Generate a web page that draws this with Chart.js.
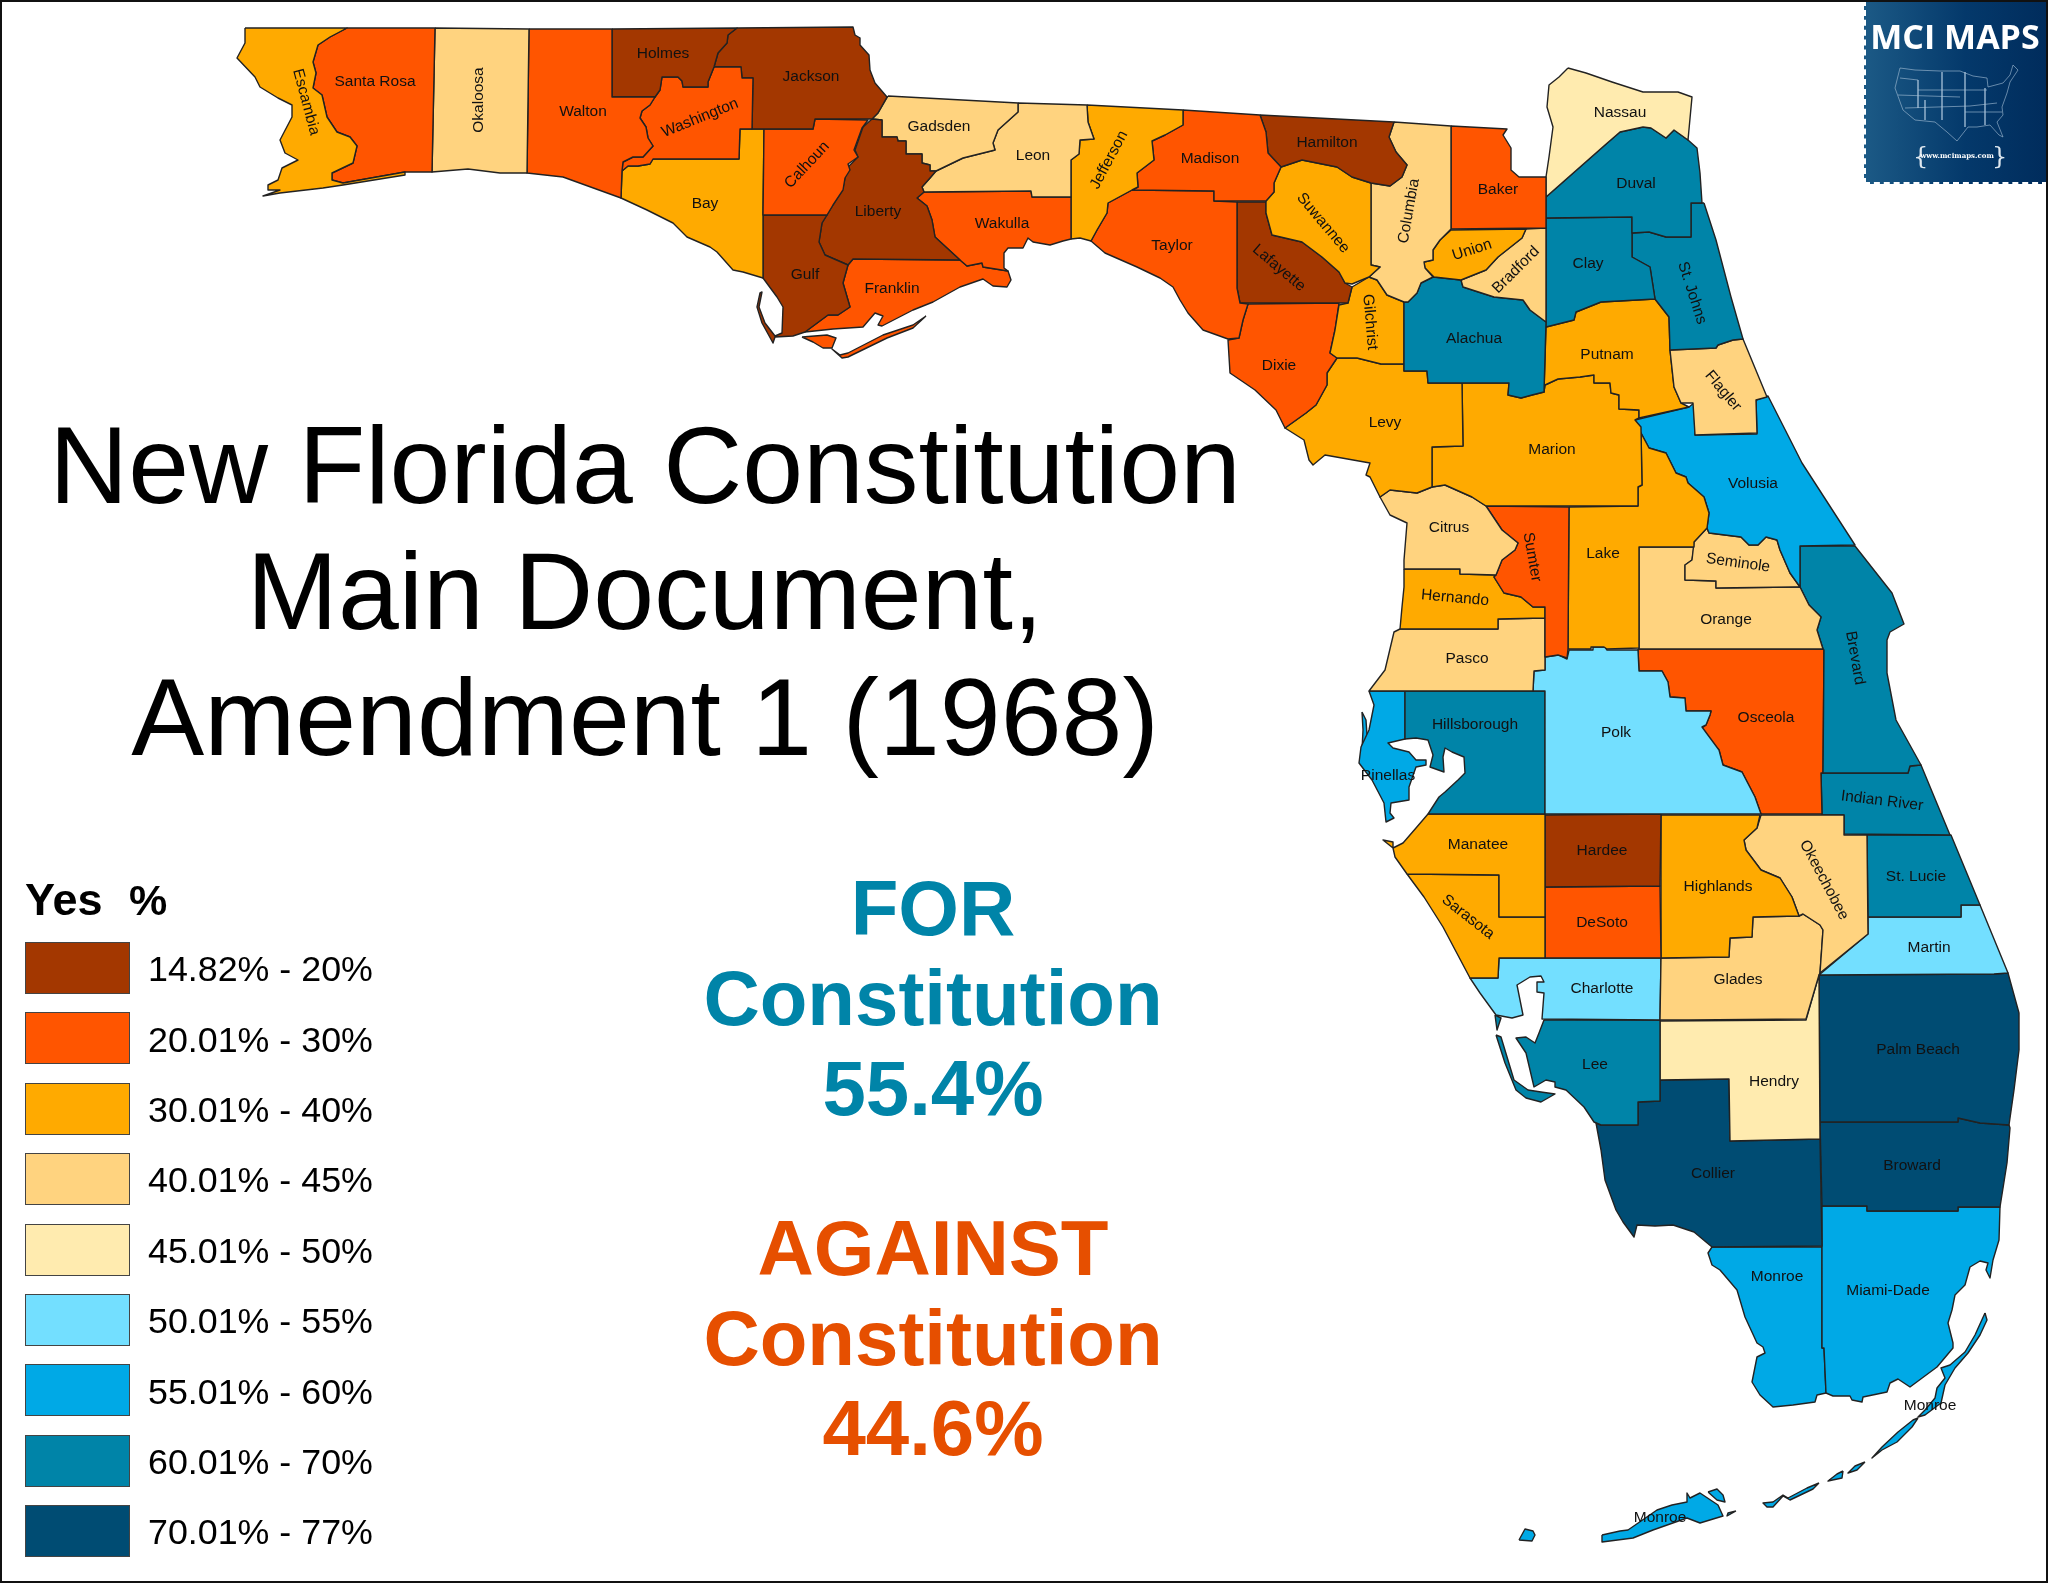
<!DOCTYPE html>
<html>
<head>
<meta charset="utf-8">
<title>New Florida Constitution</title>
<script src="https://cdn.jsdelivr.net/npm/chart.js@4"></script>
<style>
  html, body { margin: 0; padding: 0; background: #fff; }
  #page { position: relative; width: 2048px; height: 1583px; overflow: hidden; font-family: "Liberation Sans", Arial, sans-serif; color: #000; }
  #logo { position: absolute; left: 1864px; top: 0; width: 184px; height: 184px; box-sizing: border-box;
          background: linear-gradient(90deg, #1c5a86, #04396b 55%, #002c5c); outline: 2px dashed #fff; outline-offset: -2px; }
  #map { position: absolute; left: 0; top: 0; }
  #frame { position: absolute; left: 0; top: 0; width: 2048px; height: 1583px; box-sizing: border-box; border: 2px solid #111; pointer-events: none; }
  .t { position: absolute; white-space: nowrap; line-height: 1; }
  .swatch { position: absolute; left: 25px; width: 105px; height: 52px; box-sizing: border-box; border: 1.5px solid #444; }
</style>
</head>
<body>
<div id="page">
  <div id="logo"></div>
  <canvas id="map" width="2048" height="1583"></canvas>
  <div id="texts"></div>
  <div id="frame"></div>
</div>
<script>
// legend bins, yes %
const binLabels = ['14.82% - 20%', '20.01% - 30%', '30.01% - 40%', '40.01% - 45%', '45.01% - 50%', '50.01% - 55%', '55.01% - 60%', '60.01% - 70%', '70.01% - 77%'];
const binColors = ['#A33700', '#FF5500', '#FFAA00', '#FFD37F', '#FFEBAF', '#73DFFF', '#00A9E6', '#0084A8', '#004C73'];

const titleLines = ['New Florida Constitution', 'Main Document,', 'Amendment 1 (1968)'];
const forLines = ['FOR', 'Constitution', '55.4%'];
const againstLines = ['AGAINST', 'Constitution', '44.6%'];

const countyNames = ['Escambia', 'Santa Rosa', 'Okaloosa', 'Walton', 'Holmes', 'Washington', 'Jackson', 'Calhoun', 'Bay', 'Gulf', 'Liberty', 'Gadsden', 'Leon', 'Wakulla', 'Franklin',
  'Jefferson', 'Madison', 'Taylor', 'Hamilton', 'Suwannee', 'Lafayette', 'Columbia', 'Baker', 'Union', 'Bradford', 'Alachua', 'Gilchrist', 'Dixie', 'Nassau', 'Duval', 'Clay', 'St. Johns', 'Flagler', 'Putnam',
  'Levy', 'Marion', 'Citrus', 'Sumter', 'Hernando', 'Pasco', 'Lake', 'Volusia', 'Seminole', 'Orange', 'Brevard', 'Polk', 'Osceola', 'Hillsborough', 'Pinellas', 'Manatee', 'Sarasota', 'Hardee', 'DeSoto', 'Highlands', 'Okeechobee',
  'Indian River', 'St. Lucie', 'Martin', 'Glades', 'Charlotte', 'Lee', 'Hendry', 'Collier', 'Palm Beach', 'Broward', 'Miami-Dade', 'Monroe'];
// index into binColors for each county
const countyBins = [2, 1, 3, 1, 0, 1, 0, 1, 2, 0, 0, 3, 3, 1, 1,
  2, 1, 1, 0, 2, 0, 3, 1, 2, 3, 7, 2, 1, 4, 7, 7, 7, 3, 2,
  2, 2, 3, 1, 2, 3, 2, 6, 3, 3, 7, 5, 1, 7, 6, 2, 2, 0, 1, 2, 3,
  7, 7, 5, 3, 5, 7, 4, 8, 8, 8, 6, 6];

// county outlines, x,y,x,y... in map units
const countyRings = [
  [[245,28,347,28,330,37,318,45,313,62,316,73,313,88,322,95,327,117,337,132,350,137,357,146,353,163,332,173,332,180,343,183,405,172,405,175,343,185,323,188,280,193,263,196,280,190,268,190,268,185,278,180,282,168,298,160,285,153,280,140,292,117,292,105,278,98,260,87,255,77,237,58,245,43]],
  [[347,28,435,28,432,172,405,172,343,183,332,180,332,173,353,163,357,146,350,137,337,132,327,117,322,95,313,88,316,73,313,62,318,45,330,37]],
  [[435,28,529,29,527,173,500,173,468,169,432,172]],
  [[529,29,612,29,612,97,655,97,650,105,642,111,640,118,646,127,648,138,653,146,643,157,633,157,623,162,622,171,621,198,563,177,527,173]],
  [[612,29,737,28,728,35,727,43,718,53,714,67,708,82,708,87,683,87,682,81,678,77,662,77,660,90,655,97,612,97]],
  [[714,67,741,67,742,78,753,78,752,129,740,129,739,159,653,159,650,164,638,166,628,166,622,171,623,162,633,157,643,157,653,146,648,138,646,127,640,118,642,111,650,105,655,97,660,90,662,77,678,77,682,81,683,87,708,87,708,82]],
  [[737,28,853,27,855,35,860,38,860,45,869,55,870,70,875,83,887,97,878,113,872,119,815,119,813,129,752,129,753,78,742,78,741,67,714,67,718,53,727,43,728,35]],
  [[764,129,813,129,815,119,868,120,862,128,854,150,858,157,848,164,850,170,845,178,843,190,833,205,827,215,763,215]],
  [[622,171,628,166,638,166,650,164,653,159,739,159,740,129,764,129,763,215,763,278,743,272,733,270,717,252,710,247,687,237,673,223,647,210,621,198]],
  [[763,215,827,215,822,223,819,242,825,255,848,265,843,283,850,307,838,315,828,315,805,332,793,336,775,337,773,343,762,323,757,307,760,293,762,292,759,307,765,323,775,336,782,333,783,307,777,297,763,278]],
  [[872,119,882,120,882,137,897,137,898,141,906,141,906,154,922,154,922,163,930,165,930,171,936,171,930,178,922,187,924,192,917,198,927,206,932,220,935,237,960,260,853,259,848,265,825,255,819,242,822,223,827,215,833,205,843,188,847,168,858,157,855,150,863,127]],
  [[888,96,1018,103,1018,112,998,130,993,143,995,150,963,158,936,171,930,171,930,165,922,163,922,154,906,154,906,141,898,141,897,137,882,137,882,120,872,119,878,113]],
  [[1018,103,1087,105,1088,122,1094,139,1080,140,1079,154,1071,160,1071,197,1032,197,1031,191,924,192,922,187,930,178,936,171,963,158,995,150,993,143,998,130,1018,112]],
  [[917,198,924,192,1031,191,1032,197,1071,197,1071,239,1063,241,1050,245,1033,242,1028,238,1023,248,1008,248,1004,253,1004,268,1008,271,983,267,982,263,967,266,960,260,935,237,932,220,927,206]],
  [[853,259,960,260,967,266,982,263,983,267,1008,271,1011,280,1007,287,993,286,983,279,960,287,933,302,913,310,882,326,878,325,883,316,875,313,863,327,833,329,805,332,828,315,838,315,850,307,843,283,848,265],
   [926,316,913,328,887,338,848,357,842,358,832,349,840,355,848,353,883,335,913,325],
   [802,337,827,335,836,338,832,348,823,348,813,342]],
  [[1087,105,1183,110,1183,125,1165,135,1152,141,1154,160,1137,173,1138,187,1132,190,1108,203,1107,213,1097,230,1091,241,1080,238,1071,239,1071,160,1079,154,1080,140,1094,139,1088,122]],
  [[1183,110,1260,115,1266,132,1268,153,1281,167,1274,183,1274,192,1266,201,1214,201,1214,191,1132,190,1138,187,1137,173,1154,160,1152,141,1165,135,1183,125]],
  [[1132,190,1214,191,1214,201,1237,202,1237,288,1240,303,1248,304,1243,320,1239,338,1228,339,1203,330,1188,313,1180,300,1173,287,1160,278,1137,267,1105,253,1091,241,1097,230,1107,213,1108,203]],
  [[1260,115,1394,122,1389,137,1396,152,1407,165,1402,177,1390,186,1371,183,1352,177,1337,167,1302,160,1281,167,1268,153,1266,132]],
  [[1281,167,1302,160,1337,167,1352,177,1371,183,1371,265,1380,267,1369,277,1352,284,1345,283,1339,272,1322,257,1302,242,1272,235,1266,213,1266,201,1274,192,1274,183]],
  [[1237,202,1266,202,1266,213,1272,235,1302,242,1322,257,1339,272,1345,283,1352,287,1348,303,1240,303,1237,288]],
  [[1394,122,1451,126,1451,229,1440,240,1433,250,1433,260,1424,262,1425,268,1433,277,1421,283,1417,293,1408,302,1404,302,1387,295,1377,280,1369,277,1380,267,1371,265,1371,183,1390,186,1402,177,1407,165,1396,152,1389,137]],
  [[1451,126,1507,129,1503,135,1511,148,1511,170,1519,177,1546,177,1546,228,1451,229]],
  [[1451,230,1526,229,1522,238,1498,257,1486,270,1461,280,1434,277,1425,268,1424,262,1433,260,1433,250,1440,240]],
  [[1526,229,1546,228,1546,322,1530,310,1523,300,1494,297,1463,287,1461,280,1486,270,1498,257,1522,238]],
  [[1404,302,1408,302,1417,293,1421,283,1433,277,1461,280,1463,287,1494,297,1523,300,1530,310,1546,322,1544,392,1532,395,1521,398,1508,395,1509,383,1428,383,1427,371,1404,371]],
  [[1369,277,1377,280,1387,295,1404,302,1404,364,1381,364,1357,358,1337,358,1330,353,1335,330,1339,305,1348,303,1352,287]],
  [[1248,304,1339,303,1335,330,1330,353,1337,358,1327,373,1327,385,1316,405,1306,413,1285,428,1276,410,1255,390,1230,373,1228,340,1239,338,1243,320]],
  [[1568,68,1586,73,1612,82,1643,92,1678,92,1692,97,1688,140,1674,130,1666,138,1651,128,1643,127,1620,132,1605,145,1546,197,1546,177,1549,157,1553,127,1547,107,1549,85,1559,77]],
  [[1546,197,1605,145,1620,132,1643,127,1651,128,1666,138,1674,130,1688,140,1697,148,1700,173,1702,203,1691,203,1691,237,1666,237,1649,232,1632,233,1632,217,1546,218]],
  [[1546,218,1632,217,1632,233,1632,257,1650,267,1655,299,1601,302,1576,312,1574,320,1546,327]],
  [[1704,203,1691,203,1691,237,1666,237,1649,232,1632,233,1632,257,1650,267,1655,299,1669,317,1670,350,1716,348,1718,345,1733,340,1743,339,1731,297,1716,240]],
  [[1670,350,1716,348,1718,345,1733,340,1743,339,1767,397,1756,400,1757,433,1695,435,1693,403,1681,403,1674,387]],
  [[1546,327,1574,320,1576,312,1601,302,1655,299,1669,317,1670,350,1674,387,1681,403,1689,407,1639,418,1639,410,1619,409,1619,395,1611,393,1610,383,1594,383,1594,375,1580,377,1558,379,1545,385,1544,392]],
  [[1337,358,1357,358,1381,364,1404,364,1404,371,1427,371,1428,383,1462,383,1463,446,1432,447,1432,487,1417,493,1390,490,1380,497,1370,477,1366,475,1370,463,1325,455,1313,465,1309,460,1304,440,1285,428,1306,413,1316,405,1327,385,1327,373]],
  [[1462,383,1509,383,1508,395,1521,398,1532,395,1544,392,1545,385,1558,379,1580,377,1594,375,1594,383,1610,383,1611,393,1619,395,1619,409,1639,410,1639,418,1635,420,1641,427,1642,485,1638,487,1638,506,1486,506,1472,497,1445,485,1432,487,1432,447,1463,446]],
  [[1432,487,1445,485,1472,497,1486,506,1502,530,1518,543,1515,550,1502,560,1496,575,1460,574,1460,569,1404,569,1404,560,1407,523,1390,515,1380,497,1390,490,1417,493]],
  [[1486,506,1569,507,1568,649,1567,658,1558,655,1545,657,1545,607,1533,607,1521,597,1504,593,1494,577,1496,575,1502,560,1515,550,1518,543,1502,530]],
  [[1404,569,1460,569,1460,574,1496,575,1494,577,1504,593,1521,597,1533,607,1545,607,1545,618,1498,619,1498,629,1400,629,1402,607,1404,587]],
  [[1400,629,1498,629,1498,619,1545,618,1545,657,1545,670,1534,671,1533,691,1369,691,1385,670,1394,632]],
  [[1569,507,1638,506,1638,487,1642,485,1641,433,1649,448,1666,453,1676,473,1686,477,1688,483,1704,497,1709,513,1707,528,1694,542,1694,547,1639,547,1639,648,1607,649,1604,647,1591,647,1591,649,1568,649]],
  [[1635,420,1689,407,1694,403,1695,435,1757,434,1756,400,1768,396,1802,463,1855,545,1800,546,1800,587,1790,573,1780,550,1777,540,1766,537,1758,545,1749,545,1741,537,1709,533,1707,528,1709,513,1704,497,1688,483,1686,477,1676,473,1666,453,1649,448,1641,433]],
  [[1694,542,1707,528,1709,533,1741,537,1749,545,1758,545,1766,537,1777,540,1780,550,1790,573,1800,587,1794,587,1716,588,1716,581,1685,580,1685,565,1692,560]],
  [[1639,547,1694,547,1692,560,1685,565,1685,580,1716,581,1716,588,1794,587,1800,587,1809,605,1821,617,1817,630,1823,649,1639,649]],
  [[1800,546,1855,546,1892,593,1904,624,1890,632,1887,640,1887,673,1896,720,1921,765,1910,766,1908,773,1823,773,1824,650,1823,649,1817,630,1821,617,1809,605,1800,587]],
  [[1545,657,1559,655,1567,659,1569,650,1593,650,1593,647,1605,647,1607,650,1638,650,1639,671,1662,671,1668,682,1670,697,1685,698,1686,711,1711,711,1710,715,1706,725,1702,727,1719,750,1723,765,1742,772,1755,797,1761,814,1545,814,1545,691,1533,691,1534,671,1545,670]],
  [[1638,649,1824,649,1823,773,1821,773,1822,814,1761,814,1755,797,1742,772,1723,765,1719,750,1702,732,1691,727,1684,720,1687,717,1702,728,1706,725,1710,715,1711,711,1686,711,1685,698,1670,697,1668,682,1662,671,1639,671]],
  [[1405,691,1545,691,1545,814,1428,814,1439,797,1445,792,1458,780,1465,773,1464,757,1452,752,1445,748,1443,757,1444,772,1430,767,1433,755,1428,740,1416,738,1405,739]],
  [[1369,691,1405,691,1405,739,1388,743,1393,748,1409,752,1416,760,1426,760,1426,765,1416,767,1409,787,1409,800,1391,803,1390,813,1394,818,1386,822,1384,803,1372,780,1359,763,1361,747,1369,730,1374,705],
   [1362,712,1366,720,1367,735,1362,750,1363,730]],
  [[1428,814,1545,814,1545,917,1499,917,1499,875,1407,874,1395,857,1393,848,1383,840,1393,842,1393,848,1403,843,1416,828]],
  [[1407,874,1499,875,1499,917,1545,917,1545,958,1499,958,1498,978,1470,978,1443,927,1424,897]],
  [[1545,815,1661,814,1660,886,1545,887]],
  [[1545,887,1660,886,1661,958,1545,958]],
  [[1661,815,1760,815,1757,828,1744,840,1746,850,1761,870,1780,878,1792,897,1799,916,1753,917,1752,937,1730,938,1729,957,1661,958]],
  [[1761,815,1844,815,1844,835,1867,835,1868,934,1820,973,1823,930,1820,925,1803,914,1799,916,1792,897,1780,878,1761,870,1746,850,1744,840,1757,828]],
  [[1821,773,1908,773,1910,766,1921,765,1950,835,1844,834,1844,815,1822,815]],
  [[1867,835,1951,835,1980,905,1961,905,1961,917,1868,917]],
  [[1868,917,1961,917,1961,905,1980,905,2008,973,1994,974,1819,975,1868,934]],
  [[1661,958,1729,957,1730,938,1752,937,1753,917,1799,916,1803,914,1820,925,1823,930,1820,973,1819,975,1806,1019,1689,1020,1660,1020]],
  [[1499,958,1661,958,1660,1020,1542,1019,1544,993,1537,992,1537,982,1544,982,1541,976,1530,977,1517,985,1523,1015,1512,1018,1496,1015,1480,993,1470,978,1498,978]],
  [[1544,1020,1660,1020,1660,1101,1638,1102,1638,1125,1601,1125,1594,1122,1584,1107,1566,1090,1555,1087,1555,1082,1546,1080,1534,1087,1526,1053,1516,1038,1526,1037,1535,1043,1539,1033],
   [1496,1035,1501,1037,1514,1080,1528,1090,1541,1092,1555,1094,1541,1102,1526,1098,1516,1090,1505,1063],
   [1495,1015,1501,1018,1497,1030]],
  [[1660,1021,1806,1020,1819,975,1820,1139,1730,1141,1729,1079,1660,1080]],
  [[1660,1080,1729,1079,1730,1141,1820,1139,1822,1246,1712,1247,1694,1232,1673,1225,1655,1226,1637,1225,1634,1237,1623,1222,1616,1210,1605,1180,1601,1150,1596,1123,1601,1125,1638,1125,1638,1102,1660,1101]],
  [[1819,975,1994,974,2008,973,2019,1013,2019,1050,2014,1090,2009,1125,1980,1123,1958,1118,1958,1122,1820,1122]],
  [[1820,1122,1958,1122,1958,1118,1980,1123,2009,1125,2010,1128,2007,1163,2000,1207,1958,1207,1958,1211,1867,1211,1867,1206,1822,1206]],
  [[1822,1206,1867,1206,1867,1211,1958,1211,1958,1207,2000,1207,1999,1240,1993,1260,1990,1278,1986,1270,1988,1263,1980,1261,1970,1267,1965,1285,1955,1295,1952,1310,1948,1323,1953,1343,1953,1348,1937,1367,1910,1387,1898,1379,1890,1383,1887,1392,1863,1397,1862,1402,1852,1400,1850,1396,1833,1396,1826,1393,1824,1348,1822,1348]],
  [[1712,1247,1822,1247,1822,1348,1824,1348,1826,1393,1817,1395,1815,1402,1793,1405,1773,1407,1760,1395,1752,1382,1757,1357,1765,1353,1763,1347,1757,1343,1745,1317,1737,1290,1720,1270,1712,1265,1708,1253],
   [1985,1313,1987,1320,1980,1335,1968,1353,1955,1368,1945,1385,1941,1403,1925,1415,1918,1417,1925,1410,1935,1398,1937,1388,1945,1378,1941,1368,1950,1365,1965,1352,1975,1335],
   [1918,1418,1912,1427,1897,1442,1882,1450,1872,1458,1882,1447,1898,1432,1913,1420],
   [1865,1462,1857,1470,1848,1473,1855,1466],
   [1843,1471,1842,1478,1828,1481,1837,1474],
   [1819,1483,1813,1489,1790,1500,1783,1496,1773,1507,1767,1507,1763,1503,1773,1502,1783,1495,1788,1498,1807,1488],
   [1736,1511,1727,1516,1728,1513],
   [1602,1535,1620,1531,1628,1530,1657,1510,1672,1505,1687,1502,1687,1493,1690,1498,1700,1493,1718,1505,1723,1516,1700,1523,1687,1518,1653,1530,1633,1538,1602,1542],
   [1708,1492,1717,1489,1723,1495,1725,1502,1717,1500],
   [1519,1540,1525,1529,1533,1531,1535,1535,1532,1541]]
];

// county name labels: text, centre x, centre y, angle in degrees
const labelNames = ['Escambia', 'Santa Rosa', 'Okaloosa', 'Walton', 'Holmes', 'Jackson', 'Washington', 'Bay', 'Calhoun', 'Gadsden', 'Leon', 'Liberty', 'Wakulla', 'Gulf', 'Franklin', 'Jefferson', 'Madison', 'Taylor', 'Hamilton', 'Suwannee', 'Lafayette', 'Columbia', 'Baker', 'Union', 'Bradford', 'Nassau', 'Duval', 'Clay', 'St. Johns', 'Alachua', 'Gilchrist', 'Dixie', 'Putnam', 'Flagler', 'Levy', 'Marion', 'Volusia', 'Citrus', 'Sumter', 'Lake', 'Seminole', 'Hernando', 'Orange', 'Pasco', 'Brevard', 'Hillsborough', 'Polk', 'Osceola', 'Pinellas', 'Indian River', 'Manatee', 'Hardee', 'Okeechobee', 'St. Lucie', 'Highlands', 'Sarasota', 'DeSoto', 'Martin', 'Charlotte', 'Glades', 'Lee', 'Hendry', 'Palm Beach', 'Broward', 'Collier', 'Monroe', 'Miami-Dade', 'Monroe', 'Monroe'];
const labelX = [306, 375, 479, 583, 663, 811, 700, 705, 807, 939, 1033, 878, 1002, 805, 892, 1109, 1210, 1172, 1327, 1323, 1279, 1409, 1498, 1472, 1516, 1620, 1636, 1588, 1692, 1474, 1370, 1279, 1607, 1723, 1385, 1552, 1753, 1449, 1532, 1603, 1738, 1455, 1726, 1467, 1855, 1475, 1616, 1766, 1388, 1882, 1478, 1602, 1824, 1916, 1718, 1468, 1602, 1929, 1602, 1738, 1595, 1774, 1918, 1912, 1713, 1777, 1888, 1930, 1660];
const labelY = [102, 82, 100, 112, 54, 77, 118, 204, 165, 127, 156, 212, 224, 275, 289, 160, 159, 246, 143, 223, 268, 211, 190, 250, 270, 113, 184, 264, 293, 339, 322, 366, 355, 391, 423, 450, 484, 528, 557, 554, 563, 598, 620, 659, 658, 725, 733, 718, 776, 801, 845, 851, 880, 877, 887, 917, 923, 948, 989, 980, 1065, 1082, 1050, 1166, 1174, 1277, 1291, 1406, 1518];
const labelAngles = [75, 0, -90, 0, 0, 0, -22, 0, -47, 0, 0, 0, 0, 0, 0, -62, 0, 0, 0, 50, 40, -80, 0, -18, -45, 0, 0, 0, 72, 0, 85, 0, 0, 50, 0, 0, 0, 0, 80, 0, 8, 5, 0, 0, 80, 0, 0, 0, 0, 7, 0, 0, 62, 0, 0, 38, 0, 0, 0, 0, 0, 0, 0, 0, 0, 0, 0, 0, 0];

// small US outline in the badge
const badgeRings = [
  [1900,68,1915,70,1940,71,1960,71,1973,76,1987,78,1988,87,2003,83,2010,75,2013,65,2018,70,2010,82,2007,93,2002,107,2003,115,1997,122,2003,137,1999,135,1990,125,1977,127,1968,127,1957,141,1947,132,1935,122,1915,120,1903,110,1895,88],
  [1900,78,1918,80,1918,108], [1918,90,1987,90], [1905,108,1970,106,1997,103], [1942,72,1942,120], [1965,72,1965,127], [1985,88,1985,125], [1898,95,1960,97], [1925,100,1925,120], [1965,112,2002,112]
];

function toPoints(ring) {
  const pts = [];
  for (let i = 0; i < ring.length; i += 2) pts.push({ x: ring[i], y: ring[i + 1] });
  pts.push({ x: ring[0], y: ring[1] }); // close the outline
  return pts;
}

const datasets = [];
countyRings.forEach((rings, i) => {
  rings.forEach(ring => {
    datasets.push({
      label: countyNames[i],
      data: toPoints(ring),
      showLine: true,
      fill: 'shape',
      backgroundColor: binColors[countyBins[i]],
      borderColor: '#222',
      borderWidth: 1.4,
      borderJoinStyle: 'round',
      pointRadius: 0,
      tension: 0
    });
  });
});
badgeRings.forEach(ring => {
  const pts = toPoints(ring);
  if (ring.length < 12) pts.pop(); // state lines stay open
  datasets.push({ label: 'US', data: pts, showLine: true, fill: false, borderColor: '#a9c3d8', borderWidth: 0.6, pointRadius: 0, tension: 0 });
});

// county names go on top of the polygons, through the same scales
const countyLabels = {
  id: 'countyLabels',
  afterDatasetsDraw(chart) {
    const { ctx, scales } = chart;
    ctx.save();
    ctx.font = '15.5px "Liberation Sans", Arial, sans-serif';
    ctx.fillStyle = '#111';
    ctx.textAlign = 'center';
    ctx.textBaseline = 'middle';
    labelNames.forEach((name, i) => {
      ctx.save();
      ctx.translate(scales.x.getPixelForValue(labelX[i]), scales.y.getPixelForValue(labelY[i]));
      ctx.rotate(labelAngles[i] * Math.PI / 180);
      ctx.fillText(name, 0, 0);
      ctx.restore();
    });
    ctx.restore();
  }
};

new Chart(document.getElementById('map'), {
  type: 'scatter',
  data: { datasets },
  plugins: [countyLabels],
  options: {
    responsive: false,
    animation: false,
    devicePixelRatio: 1,
    layout: { padding: 0 },
    plugins: { legend: { display: false }, tooltip: { enabled: false }, title: { display: false } },
    scales: {
      x: { type: 'linear', min: 0, max: 2048, display: false },
      y: { type: 'linear', min: 0, max: 1583, reverse: true, display: false }
    }
  }
});

// text blocks and legend
const texts = document.getElementById('texts');
function addText(str, x, baseline, size, opts = {}) {
  const el = document.createElement('div');
  el.className = 't';
  el.textContent = str;
  el.style.fontSize = size + 'px';
  el.style.left = x + 'px';
  // Liberation ascent is about .905 of the size inside a line-height of 1
  el.style.top = (baseline - size * 0.86) + 'px';
  if (opts.center) el.style.transform = 'translateX(-50%)';
  if (opts.bold) el.style.fontWeight = 'bold';
  if (opts.color) el.style.color = opts.color;
  if (opts.font) el.style.fontFamily = opts.font;
  if (opts.spacing) el.style.letterSpacing = opts.spacing + 'px';
  texts.appendChild(el);
}

titleLines.forEach((line, i) => addText(line, 645, 505 + i * 126, 109.4, { center: true }));
forLines.forEach((line, i) => addText(line, 933, [936, 1026, 1116][i], 78, { center: true, bold: true, color: '#0084A8' }));
againstLines.forEach((line, i) => addText(line, 933, [1276, 1366, 1456][i], 78, { center: true, bold: true, color: '#E64F00' }));

addText('Yes', 25, 916, 45, { bold: true });
addText('%', 129, 916, 43, { bold: true });
binLabels.forEach((label, i) => {
  const top = 942 + i * 70.4;
  const sw = document.createElement('div');
  sw.className = 'swatch';
  sw.style.top = top + 'px';
  sw.style.background = binColors[i];
  texts.appendChild(sw);
  addText(label, 148, top + 41, 35.8);
});

addText('MCI MAPS', 1955, 48, 34, { center: true, bold: true, color: '#fff', font: '"Open Sans", "Liberation Sans", sans-serif' });
addText('{', 1913, 165, 24, { color: '#dfe8f0', font: '"DejaVu Serif", serif' });
addText('www.mcimaps.com', 1957, 158, 7, { center: true, bold: true, color: '#fff', font: '"DejaVu Serif", serif' });
addText('}', 1992, 165, 24, { color: '#dfe8f0', font: '"DejaVu Serif", serif' });
</script>
</body>
</html>
